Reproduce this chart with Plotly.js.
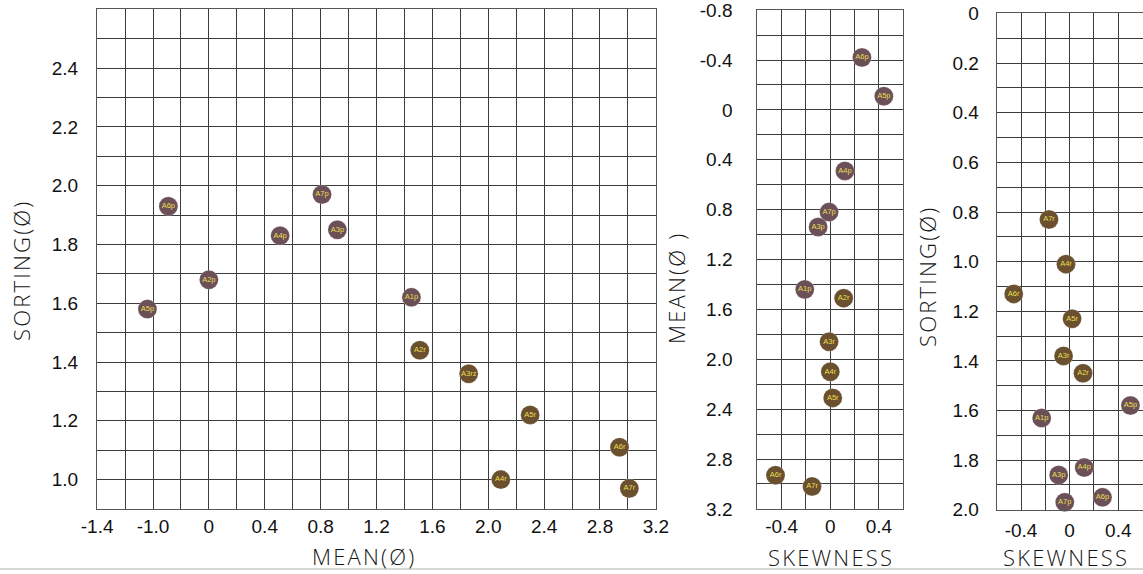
<!DOCTYPE html>
<html>
<head>
<meta charset="utf-8">
<script src="https://cdn.plot.ly/plotly-3.0.1.min.js"></script>
<style>
html,body{margin:0;padding:0;background:#fff;}
#chart{width:1143px;height:574px;}
.annotation-text{letter-spacing:2.2px;}
</style>
</head>
<body>
<div id="chart"></div>
<script>
// ---- Data ----
// Panel 1: MEAN vs SORTING
const leftLabels  = ["A6p","A5p","A2p","A4p","A7p","A3p","A1p","A2r","A3rz","A5r","A6r","A4r","A7r"];
const leftMean    = [-0.29,-0.44,0.00,0.51,0.81,0.92,1.45,1.51,1.86,2.30,2.94,2.09,3.01];
const leftSorting = [1.93,1.58,1.68,1.83,1.97,1.85,1.62,1.44,1.36,1.22,1.11,1.00,0.97];

// Panel 2: SKEWNESS vs MEAN
const midLabels = ["A6p","A5p","A4p","A7p","A3p","A1p","A2r","A3r","A4r","A5r","A6r","A7r"];
const midSkew   = [0.26,0.44,0.12,-0.01,-0.10,-0.21,0.11,-0.01,0.00,0.02,-0.45,-0.15];
const midMean   = [-0.42,-0.11,0.49,0.82,0.94,1.44,1.51,1.86,2.10,2.31,2.93,3.02];

// Panel 3: SKEWNESS vs SORTING
const rightLabels  = ["A7r","A4r","A6r","A5r","A3r","A2r","A5p","A1p","A4p","A3p","A7p","A6p"];
const rightSkew    = [-0.17,-0.03,-0.46,0.02,-0.05,0.11,0.50,-0.23,0.12,-0.09,-0.04,0.27];
const rightSorting = [0.83,1.01,1.13,1.23,1.38,1.45,1.58,1.63,1.83,1.86,1.97,1.95];

// Tick positions and labels
const leftXTickVals = [-0.8,-0.6,-0.4,-0.2,0,0.2,0.4,0.6,0.8,1.0,1.2,1.4,1.6,1.8,2.0,2.2,2.4,2.6,2.8,3.0,3.2];
const leftXTickText = ["-1.4","","-1.0","","0","","0.4","","0.8","","1.2","","1.6","","2.0","","2.4","","2.8","","3.2"];
const leftYTickVals = [0.9,1.0,1.1,1.2,1.3,1.4,1.5,1.6,1.7,1.8,1.9,2.0,2.1,2.2,2.3,2.4,2.5,2.6];
const leftYTickText = ["","1.0","","1.2","","1.4","","1.6","","1.8","","2.0","","2.2","","2.4","",""];
const skewTickVals  = [-0.6,-0.4,-0.2,0,0.2,0.4,0.6];
const skewTickText  = ["","-0.4","","0","","0.4",""];
const midYTickVals  = [-0.8,-0.6,-0.4,-0.2,0,0.2,0.4,0.6,0.8,1.0,1.2,1.4,1.6,1.8,2.0,2.2,2.4,2.6,2.8,3.0,3.2];
const midYTickText  = ["-0.8","","-0.4","","0","","0.4","","0.8","","1.2","","1.6","","2.0","","2.4","","2.8","","3.2"];
const rightYTickVals = [0,0.1,0.2,0.3,0.4,0.5,0.6,0.7,0.8,0.9,1.0,1.1,1.2,1.3,1.4,1.5,1.6,1.7,1.8,1.9,2.0];
const rightYTickText = ["0","","0.2","","0.4","","0.6","","0.8","","1.0","","1.2","","1.4","","1.6","","1.8","","2.0"];

// ---- Styling ----
const colP = "#6b5058";
const colR = "#6a502f";
const txtCol = "#ecdf4e";
const FONT = "Liberation Sans, Arial, sans-serif";
const colorsFor = labels => labels.map(l => /p$/.test(l) ? colP : colR);

function scatter(x, y, labels, xa, ya) {
  return {
    type: "scatter", mode: "markers+text",
    x: x, y: y, text: labels,
    xaxis: xa, yaxis: ya,
    textposition: "middle center",
    textfont: {family: FONT, size: 7.5, color: txtCol},
    marker: {size: 19, color: colorsFor(labels), line: {width: 0.6, color: "rgba(255,255,255,0.35)"}},
    cliponaxis: false, hoverinfo: "skip", showlegend: false
  };
}

const W = 1143, H = 574;
const px = v => v / W;
const py = v => 1 - v / H;

const gridCol = "#3c3c3c";
function axis(domain, range, tv, tt, standoff, extra) {
  return Object.assign({
    domain: domain, range: range,
    tickmode: "array", tickvals: tv, ticktext: tt,
    showgrid: true, gridcolor: gridCol, gridwidth: 1,
    zeroline: false, showline: true, linecolor: "#555", linewidth: 1, mirror: true,
    ticks: "", ticklabelstandoff: standoff, ticklabeloverflow: "allow",
    tickfont: {family: FONT, size: 19, color: "#111"},
    fixedrange: true
  }, extra || {});
}

const layout = {
  width: W, height: H,
  margin: {l: 0, r: 0, t: 0, b: 0},
  paper_bgcolor: "#fff", plot_bgcolor: "#fff",
  xaxis:  axis([px(97), px(656)], [-0.801, 3.201], leftXTickVals, leftXTickText, 0, {anchor: "y"}),
  yaxis:  axis([py(509), py(9.3)], [0.9, 2.6], leftYTickVals, leftYTickText, 14, {anchor: "x"}),
  xaxis2: axis([px(757.3), px(903.3)], [-0.6, 0.6], skewTickVals, skewTickText, 0, {anchor: "y2"}),
  yaxis2: axis([py(509), py(10)], [3.201, -0.801], midYTickVals, midYTickText, 20, {anchor: "x2"}),
  xaxis3: axis([px(996.7), px(1142.6)], [-0.6, 0.6], skewTickVals, skewTickText, 3, {anchor: "y3"}),
  yaxis3: axis([py(510), py(13.3)], [2.001, -0.001], rightYTickVals, rightYTickText, 13, {anchor: "x3"}),
  shapes: [
    {type: "line", xref: "paper", yref: "paper", x0: 0, x1: 1, y0: py(569), y1: py(569),
     line: {color: "#b0b0b0", width: 1}}
  ],
  annotations: [
    {text: "SORTING(Ø)", x: px(21), y: py(270), textangle: -90},
    {text: "MEAN(Ø)", x: px(364), y: py(556)},
    {text: "MEAN(Ø )", x: px(676), y: py(288), textangle: -90},
    {text: "SKEWNESS", x: px(831), y: py(557)},
    {text: "SORTING(Ø)", x: px(927), y: py(276), textangle: -90},
    {text: "SKEWNESS", x: px(1066), y: py(557)}
  ].map(a => Object.assign({xref: "paper", yref: "paper", showarrow: false,
    xanchor: "center", yanchor: "middle",
    font: {family: "Open Sans, Liberation Sans, sans-serif", weight: 300, size: 22, color: "#151515"}}, a))
};

const data = [
  scatter(leftMean, leftSorting, leftLabels, "x", "y"),
  scatter(midSkew, midMean, midLabels, "x2", "y2"),
  scatter(rightSkew, rightSorting, rightLabels, "x3", "y3")
];

Plotly.newPlot("chart", data, layout, {staticPlot: true, displayModeBar: false});
</script>
</body>
</html>
